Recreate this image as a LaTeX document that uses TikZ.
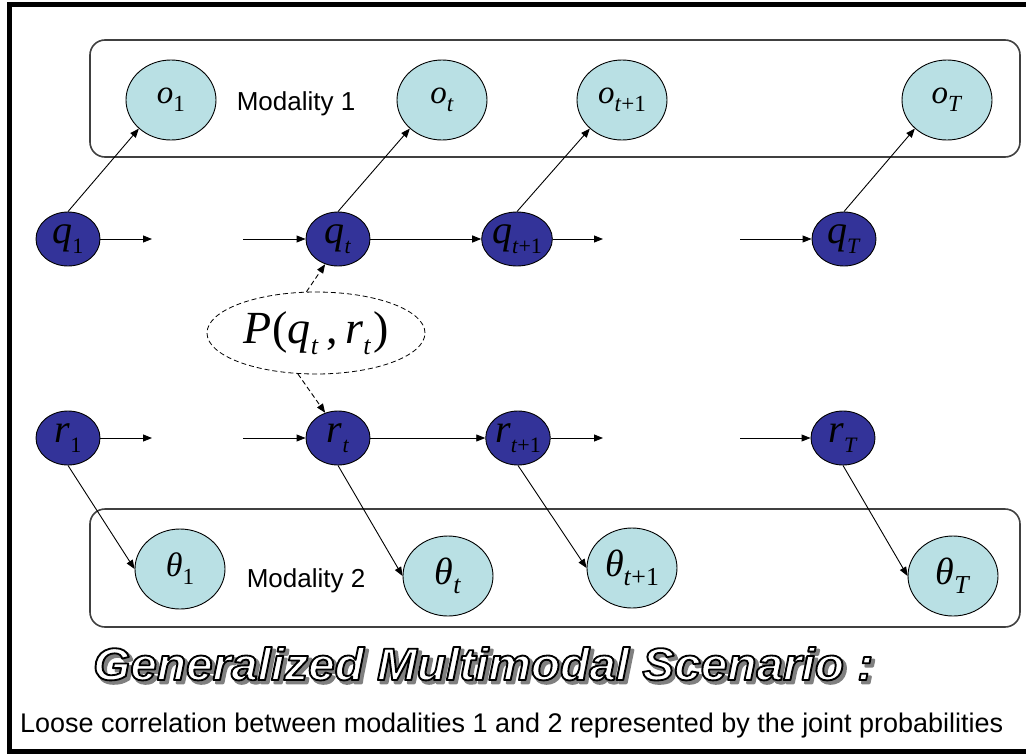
\documentclass[tikz,border=0pt]{standalone}
\usepackage{fontspec}
\setmainfont{Liberation Serif}
\newfontfamily\arial{Liberation Sans}
\usetikzlibrary{arrows.meta,shapes.geometric}
\definecolor{lcyan}{RGB}{185,224,228}
\definecolor{dblue}{RGB}{51,51,153}
\newcommand\lb[3]{\textit{#1}\raisebox{-0.24em}{\scalebox{#3}{#2}}}
\newcommand\titlebody{\resizebox{780pt}{33pt}{\arial\bfseries\itshape\fontsize{40}{40}\selectfont Generalized Multimodal Scenario :}}
% outlined text: fill colour #1, stroke grey level #2, stroke width #3
\newcommand\outlined[3]{\color{#1}\special{pdf:literal direct #2 G 2 Tr #3 w 1 j}\titlebody\special{pdf:literal direct 0 Tr}}
\begin{document}
\begin{tikzpicture}[x=1pt,y=-1pt,
  hid/.style={ellipse,draw=black,line width=0.9pt,fill=dblue,minimum width=64pt,minimum height=54pt,inner sep=0pt,font=\fontsize{40}{40}\selectfont},
  obs/.style={ellipse,draw=black,line width=0.9pt,fill=lcyan,minimum width=90pt,minimum height=80pt,inner sep=0pt,font=\fontsize{33}{33}\selectfont},
  prm/.style={obs,font=\fontsize{38}{38}\selectfont},
  arr/.style={-{Triangle[length=9pt,width=7pt]},line width=0.9pt},
  modbox/.style={draw=black!75,line width=1.6pt,rounded corners=15pt},
  modtext/.style={anchor=base,inner sep=0pt,font=\arial\fontsize{26}{26}\selectfont},
  ttl/.style={anchor=base west,inner sep=0pt},
]
\useasboundingbox (0,0) rectangle (1026,755);
\fill[white] (0,0) rectangle (1026,755);
\draw[line width=4.5pt] (1040,4.5) -- (9.5,4.5) -- (9.5,751.5) -- (1040,751.5);

% modality boxes
\draw[modbox] (90,40) rectangle (1020,157);
\draw[modbox] (90,509) rectangle (1020,627);
\node[modtext] (mod1) at (296,110) {Modality 1};
\node[modtext] (mod2) at (306,587) {Modality 2};

% observation nodes
\node[obs] (o1) at (171,100) {\lb{o}{1}{0.7}};
\node[obs] (ot) at (442,100) {\lb{o}{\textit{t}}{0.7}};
\node[obs] (ot1) at (622,100) {\lb{o}{\textit{t}+1}{0.7}};
\node[obs] (oT) at (947,100) {\lb{o}{\textit{T}}{0.7}};

% hidden nodes
\node[hid] (q1) at (68,239) {\lb{q}{1}{0.55}};
\node[hid] (qt) at (338,239) {\lb{q}{\textit{t}}{0.55}};
\node[hid] (qt1) at (517,239) {\lb{q}{\textit{t}+1}{0.55}};
\node[hid] (qT) at (844,239) {\lb{q}{\textit{T}}{0.55}};
\node[hid] (r1) at (68,438) {\lb{r}{1}{0.55}};
\node[hid] (rt) at (338,438) {\lb{r}{\textit{t}}{0.55}};
\node[hid] (rt1) at (518,438) {\lb{r}{\textit{t}+1}{0.55}};
\node[hid] (rT) at (843,438) {\lb{r}{\textit{T}}{0.55}};

% parameter nodes
\node[prm,font=\fontsize{34}{34}\selectfont] (th1) at (180,569) {\lb{θ}{1}{0.68}};
\node[prm] (tht) at (448,576) {\lb{θ}{\textit{t}}{0.68}};
\node[prm] (tht1) at (632,568) {\lb{θ}{\textit{t}+1}{0.68}};
\node[prm] (thT) at (953,576) {\lb{θ}{\textit{T}}{0.68}};

% joint probability
\node[ellipse,draw,dashed,dash pattern=on 5pt off 3pt,line width=0.8pt,minimum width=218pt,minimum height=82pt,inner sep=0pt,font=\fontsize{46}{46}\selectfont] (pj) at (316,333)
  {\textit{P}\kern1pt(\lb{q}{\textit{t}}{0.57}\,,\,\lb{r}{\textit{t}}{0.57}\kern2pt)};

% free ends of the chains
\coordinate (qa) at (152,239);
\coordinate (qb) at (243,239);
\coordinate (qc) at (603,239);
\coordinate (qd) at (740,239);
\coordinate (ra) at (152,438);
\coordinate (rb) at (243,438);
\coordinate (rc) at (603,438);
\coordinate (rd) at (740,438);

% chain arrows
\draw[arr] (q1) -- (qa);
\draw[arr] (qb) -- (qt);
\draw[arr] (qt) -- (qt1);
\draw[arr] (qt1) -- (qc);
\draw[arr] (qd) -- (qT);
\draw[arr] (r1) -- (ra);
\draw[arr] (rb) -- (rt);
\draw[arr] (rt) -- (rt1);
\draw[arr] (rt1) -- (rc);
\draw[arr] (rd) -- (rT);

% emissions
\draw[arr] (q1.north) -- (o1.south west);
\draw[arr] (qt.north) -- (ot.south west);
\draw[arr] (qt1.north) -- (ot1.south west);
\draw[arr] (qT.north) -- (oT.south west);
\draw[arr] (r1.south) -- (th1.west);
\draw[arr] (rt.south) -- (tht.west);
\draw[arr] (rt1.south) -- (tht1.west);
\draw[arr] (rT.south) -- (thT.west);

% dashed links
\draw[arr,dashed,dash pattern=on 5pt off 3pt] (pj.103) -- (qt.243);
\draw[arr,dashed,dash pattern=on 5pt off 3pt] (pj.246) -- (rt.117);

% title with shadow and outline
\node[ttl] (titleshadow) at (96,683) {\outlined{black!50}{0.5}{2.4}};
\node[ttl] (title) at (93,680) {\outlined{white}{0}{1.6}};

% caption
\node[anchor=base west,inner sep=0pt] (caption) at (20,732)
  {\resizebox{983pt}{!}{\arial\fontsize{28}{28}\selectfont Loose correlation between modalities 1 and 2 represented by the joint probabilities}};
\end{tikzpicture}
\end{document}
